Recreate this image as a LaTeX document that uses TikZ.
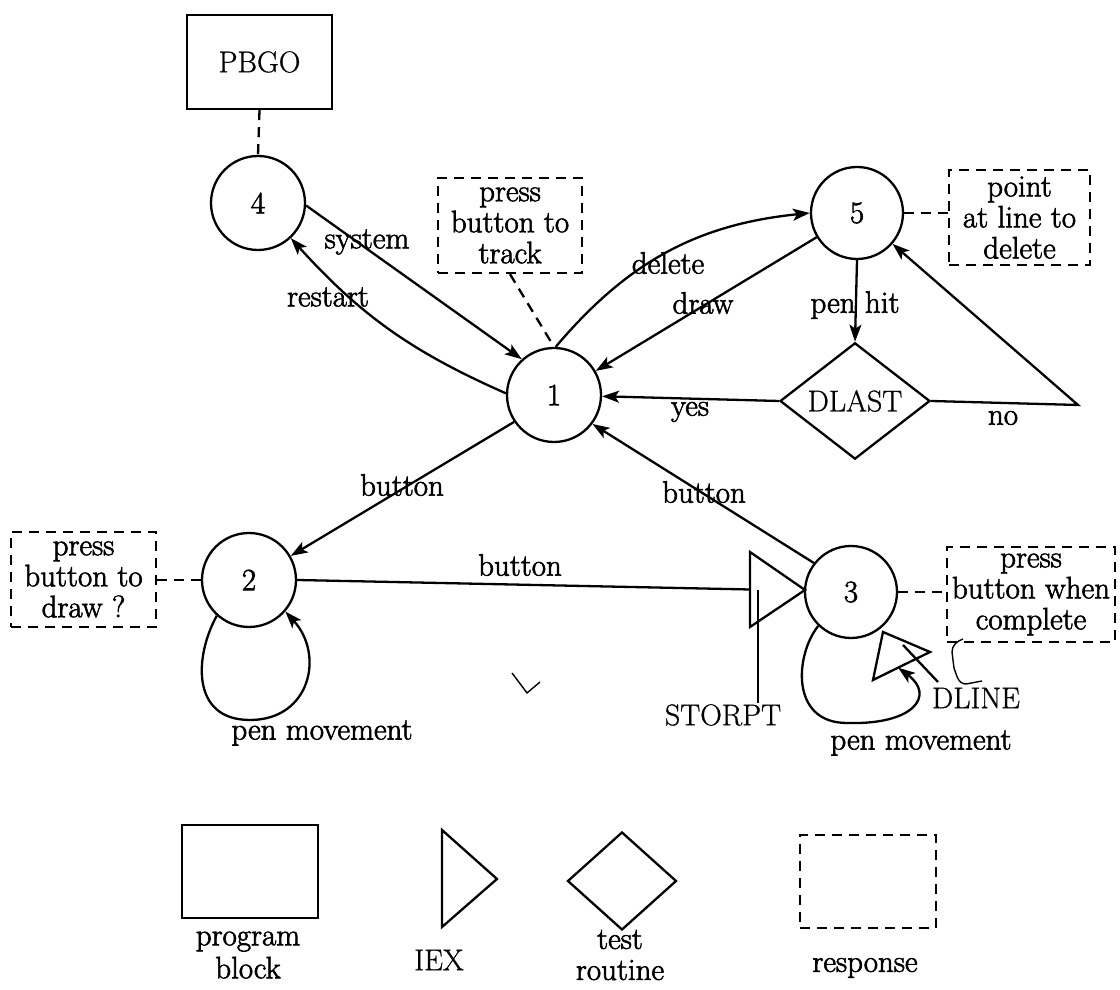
\documentclass[tikz,border=0pt]{standalone}
\usepackage{fontspec}
\newfontfamily\heavyfont{Latin Modern Roman}[FakeBold=2]
\newfontfamily\capsfont{Latin Modern Roman}[FakeBold=0.8]
\usetikzlibrary{shapes.geometric,arrows.meta,calc}
\begin{document}
\begin{tikzpicture}[x=1pt,y=1pt,line width=2.3pt,
  every node/.style={font=\heavyfont\fontsize{31}{31}\selectfont},
  caps/.style={font=\capsfont\fontsize{30}{31}\selectfont},
  state/.style={circle,draw,minimum size=94pt,inner sep=0pt},
  block/.style={rectangle,draw,inner sep=0pt},
  resp/.style={rectangle,draw,dash pattern=on 10pt off 7pt,inner sep=0pt,align=center},
  test/.style={diamond,draw,inner sep=0pt},
  arr/.style={-{Stealth[length=17pt,width=12pt,inset=4pt]}},
  dashlink/.style={dash pattern=on 10pt off 7pt},
  thinmark/.style={line width=1.4pt}]
\useasboundingbox (0,0) rectangle (1120,990);

% program blocks, states, tests and responses
\node[block,caps,minimum width=145pt,minimum height=94pt] (pbgo) at (259.5,928) {PBGO};
\node[state] (c4) at (258,787) {4};
\node[resp,minimum width=144pt,minimum height=95pt] (track) at (510,764.5) {press\\button to\\track};
\node[state] (c1) at (554,595) {1};
\node[state,minimum size=92pt] (c5) at (857,777) {5};
\node[resp,minimum width=141pt,minimum height=95pt] (pointbox) at (1019.5,772.5) {point\\at line to\\delete};
\node[test,caps,minimum width=150pt,minimum height=92pt] (dlast) at (855,589) {DLAST};
\node[state] (c2) at (249,410) {2};
\node[resp,minimum width=145pt,minimum height=95pt] (drawbox) at (83.5,410.5) {press\\button to\\draw ?};
\node[state,minimum size=92pt] (c3) at (851,398) {3};
\node[resp,minimum width=168pt,minimum height=95pt] (donebox) at (1031,395.5) {press\\button when\\complete};

% IEX triangles
\coordinate (sa) at (750,438); \coordinate (sb) at (750,363); \coordinate (sc) at (805,400);
\draw[line join=miter] (sa) -- (sc) -- (sb) -- cycle;
\coordinate (da) at (883,358); \coordinate (db) at (873,310); \coordinate (dc) at (930,338);
\draw[line join=miter] (da) -- (dc) -- (db) -- cycle;

% transitions
\draw[arr] (c4.-3) -- (c1.132);
\draw[arr] (c1.178) to[bend left=12] (c4.-47);
\draw[arr] (c1.88) to[bend left=22] (c5.180);
\draw[arr] (c5.211) -- (c1.30);
\draw[arr] (c5.south) -- (dlast.north);
\draw[arr] (dlast.west) -- (c1);
\coordinate (nocorner) at (1078,585);
\draw[arr] (dlast.east) -- (nocorner) -- (c5);
\draw[arr] (c1.214) -- (c2.30);
\draw[arr] (c3.142) -- (c1.-37);
\draw (c2.east) -- ($(sa)!0.5!(sb)$);

% pen movement loops
\draw[arr] (c2.228) .. controls (195,335) and (190,270) .. (250,270)
  .. controls (310,270) and (325,335) .. (c2.-41);
\coordinate (loopend) at ($(db)!0.44!(dc)$);
\draw[arr] (c3.226) .. controls (795,335) and (790,267) .. (847,267)
  .. controls (915,265) and (935,295) .. (loopend);

% pointers to routine names
\coordinate (stortop) at (758,400); \coordinate (storbot) at (758,287);
\draw (stortop) -- (storbot);
\coordinate (dlp1) at (903,345); \coordinate (dlp2) at (938,308);
\draw (dlp1) -- (dlp2);
\draw[thinmark] (963,351) to[out=200,in=90] (952,338) -- (954,322)
  to[out=-70,in=180] (966,306) -- (982,309);

% links to responses
\draw[dashlink] (pbgo.south) -- (c4.north);
\draw[dashlink] (track.south) -- (c1.north);
\draw[dashlink] (c5.east) -- (pointbox.west |- c5.east);
\draw[dashlink] (c2.west) -- (drawbox.east |- c2.west);
\draw[dashlink] (c3.east) -- (donebox.west |- c3.east);

% transition labels
\node (lsys) at (367,748) {system};
\node (lrst) at (328,693) {restart};
\node (ldel) at (668,727) {delete};
\node (ldrw) at (703,687) {draw};
\node (lpen) at (855,685) {pen hit};
\node (lyes) at (690,578) {yes};
\node (lno) at (1003,572) {no};
\node (lb12) at (402,505) {button};
\node (lb31) at (704,498) {button};
\node (lb23) at (520,425) {button};
\node (lpm2) at (322,257) {pen movement};
\node (lpm3) at (921,247) {pen movement};
\node[caps] (lstor) at (723,275) {STORPT};
\node[caps] (ldline) at (976,292) {DLINE};

% check mark
\draw[thinmark] (512,317) -- (527,297) -- (540,308);

% legend
\node[block,minimum width=136pt,minimum height=93pt] (lgblock) at (250,118.5) {};
\node[align=center,font=\heavyfont\fontsize{31}{33}\selectfont] (lgblocktxt) at (248,35) {program\\block};
\coordinate (ia) at (442,160); \coordinate (ib) at (442,63); \coordinate (ic) at (497,111);
\draw[line join=miter] (ia) -- (ic) -- (ib) -- cycle;
\node[caps] (lgiex) at (439,30) {IEX};
\node[test,minimum width=109pt,minimum height=98pt] (lgtest) at (622,109) {};
\node[align=center,font=\heavyfont\fontsize{31}{31}\selectfont] (lgtesttxt) at (620,35) {test\\routine};
\node[resp,minimum width=136pt,minimum height=93pt] (lgresp) at (868,108.5) {};
\node (lgresptxt) at (865,22) {response};
\end{tikzpicture}
\end{document}
